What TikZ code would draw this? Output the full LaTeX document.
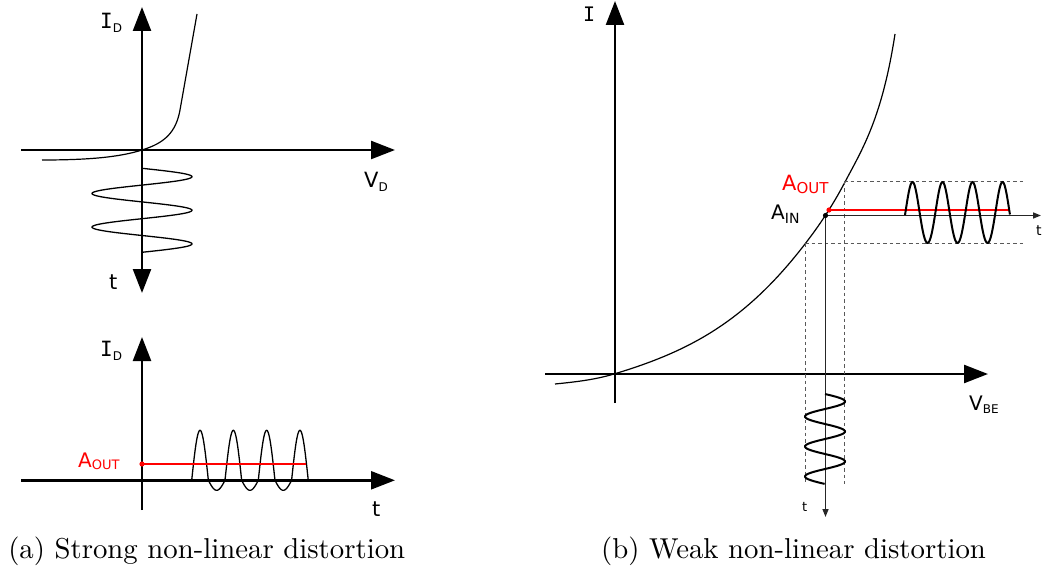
\documentclass[tikz,border=0pt]{standalone}
\usepackage{fontspec}
\usepackage{graphicx}
\usetikzlibrary{arrows.meta}
\newfontfamily\labf{DejaVu Sans}
\newfontfamily\labm{DejaVu Sans Mono}
\newcommand{\subtx}[3]{{\fontsize{#1}{#1}\selectfont\raisebox{-#2pt}{#3}}}
\tikzset{
  axisarr/.style={line width=2.4pt, -{Triangle[length=24pt,width=18pt]}},
  axisboth/.style={line width=2.4pt, {Triangle[length=24pt,width=18pt]}-{Triangle[length=24pt,width=18pt]}},
  taxis/.style={line width=1.5pt, draw=black!85, -{Triangle[length=8pt,width=6pt]}},
  curveline/.style={line width=1.2pt},
  waveline/.style={line width=1.3pt},
  bwaveline/.style={line width=2pt},
  guideline/.style={line width=1pt, draw=black!65, dash pattern=on 3.5pt off 3pt},
  redline/.style={line width=1.6pt, draw=red},
  lab/.style={anchor=base west, inner sep=0pt, font=\labf\fontsize{21}{21}\selectfont},
  captext/.style={anchor=base, inner sep=0pt},
}
\begin{document}
\begin{tikzpicture}[x=1pt,y=-1pt]
\useasboundingbox (0,0) rectangle (1043,577);
% ---------- panel (a) top ----------
\coordinate (a1L) at (21,150);
\coordinate (a1R) at (395,150);
\coordinate (a1T) at (142,7);
\coordinate (a1B) at (142,293);
\draw[axisarr] (a1L) -- (a1R);
\draw[axisboth] (a1B) -- (a1T);
\draw[curveline] (42,160) .. controls (90,160) and (120,157) .. (142,150)
  .. controls (165,143) and (176,132) .. (180,110) -- (197,14);
\draw[waveline] plot[domain=0:2.5, samples=160, variable=\s] ({142+50*sin(360*\s)}, {168.3+33.6*\s});
\node[lab] (ID1) at (100,29) {{\labm I}\subtx{12}{4}{D}};
\node[lab] (VD) at (364,188) {V\subtx{12}{4}{D}};
\node[lab] (t1) at (109,289) {t};
% ---------- panel (a) bottom ----------
\coordinate (a2L) at (21,480.3);
\coordinate (a2R) at (395,480.3);
\coordinate (a2T) at (142,337);
\coordinate (a2B) at (142,510);
\draw[axisarr] (a2L) -- (a2R);
\draw[axisarr] (a2B) -- (a2T);
\draw[waveline] plot[domain=0:3.5, samples=240, variable=\s] ({191.7+33.3*\s}, {480.3-50*max(sin(360*\s),0)-10*min(sin(360*\s),0)});
\coordinate (aoutA) at (142,464);
\coordinate (aoutE) at (306,464);
\draw[redline] (aoutA) -- (aoutE);
\fill[red] (aoutA) circle (2.6);
\node[lab] (ID2) at (100,356) {{\labm I}\subtx{12}{4}{D}};
\node[lab, font=\labf\fontsize{20}{20}\selectfont, text=red] (AO1) at (78,467) {A\subtx{13}{2}{OUT}};
\node[lab] (t2) at (372,516) {t};
\node[captext] (capa) at (206.7,558) {\scalebox{2.877}{(a) Strong non-linear distortion}};
% ---------- panel (b) ----------
\coordinate (bL) at (545,374);
\coordinate (bR) at (988,374);
\coordinate (bT) at (615,1);
\coordinate (bB) at (615,403);
\draw[axisarr] (bL) -- (bR);
\draw[axisarr] (bB) -- (bT);
\draw[curveline] (555,384) .. controls (574.7,382) and (594.3,379.9) .. (614,374)
  .. controls (689,351.5) and (745,322) .. (805,244)
  .. controls (818.3,226.7) and (831.7,207.3) .. (845,182)
  .. controls (862,149.7) and (882,118.5) .. (895,34);
% guides
\coordinate (gTL) at (844,182);
\coordinate (gTR) at (1025,182);
\coordinate (gBL) at (805,244);
\coordinate (gBR) at (1025,244);
\coordinate (gTD) at (844,484);
\coordinate (gBD) at (805,484);
\draw[guideline] (gTL) -- (gTR);
\draw[guideline] (gBL) -- (gBR);
\draw[guideline] (gTL) -- (gTD);
\draw[guideline] (gBL) -- (gBD);
% time axes
\coordinate (ain) at (825.5,215.5);
\coordinate (tR) at (1041,215.5);
\coordinate (tD) at (825.5,517);
\draw[taxis] (ain) -- (tR);
\draw[taxis] (ain) -- (tD);
% output level
\coordinate (aoB) at (829,210);
\coordinate (aoE) at (1010,210);
\draw[redline] (aoB) -- (aoE);
\fill[red] (aoB) circle (2.6);
\fill[black] (ain) circle (2.6);
% waves
\draw[bwaveline] plot[domain=0:3, samples=200, variable=\s] ({825+20*sin(360*\s)}, {394+30*\s});
\draw[bwaveline] plot[domain=0:3.5, samples=240, variable=\s] ({905+30*\s}, {215-184.8*(exp(0.1643*sin(360*\s))-1)});
% labels
\node[lab, font=\labm\fontsize{20}{20}\selectfont] (Ilab) at (583,22) {I};
\node[lab, font=\labf\fontsize{20}{20}\selectfont] (VBE) at (969,410) {V\subtx{12}{3}{BE}};
\node[lab, font=\labf\fontsize{20}{20}\selectfont] (AIN) at (771,220) {A\subtx{14}{4}{IN}};
\node[lab, font=\labf\fontsize{21}{21}\selectfont, text=red] (AO2) at (782,191) {A\subtx{15}{3}{OUT}};
\node[lab, font=\labf\fontsize{13}{13}\selectfont] (t3) at (802,511) {t};
\node[lab, font=\labf\fontsize{14}{14}\selectfont] (t4) at (1036,236) {t};
\node[captext] (capb) at (793.5,558) {\scalebox{2.877}{(b) Weak non-linear distortion}};
\end{tikzpicture}
\end{document}
